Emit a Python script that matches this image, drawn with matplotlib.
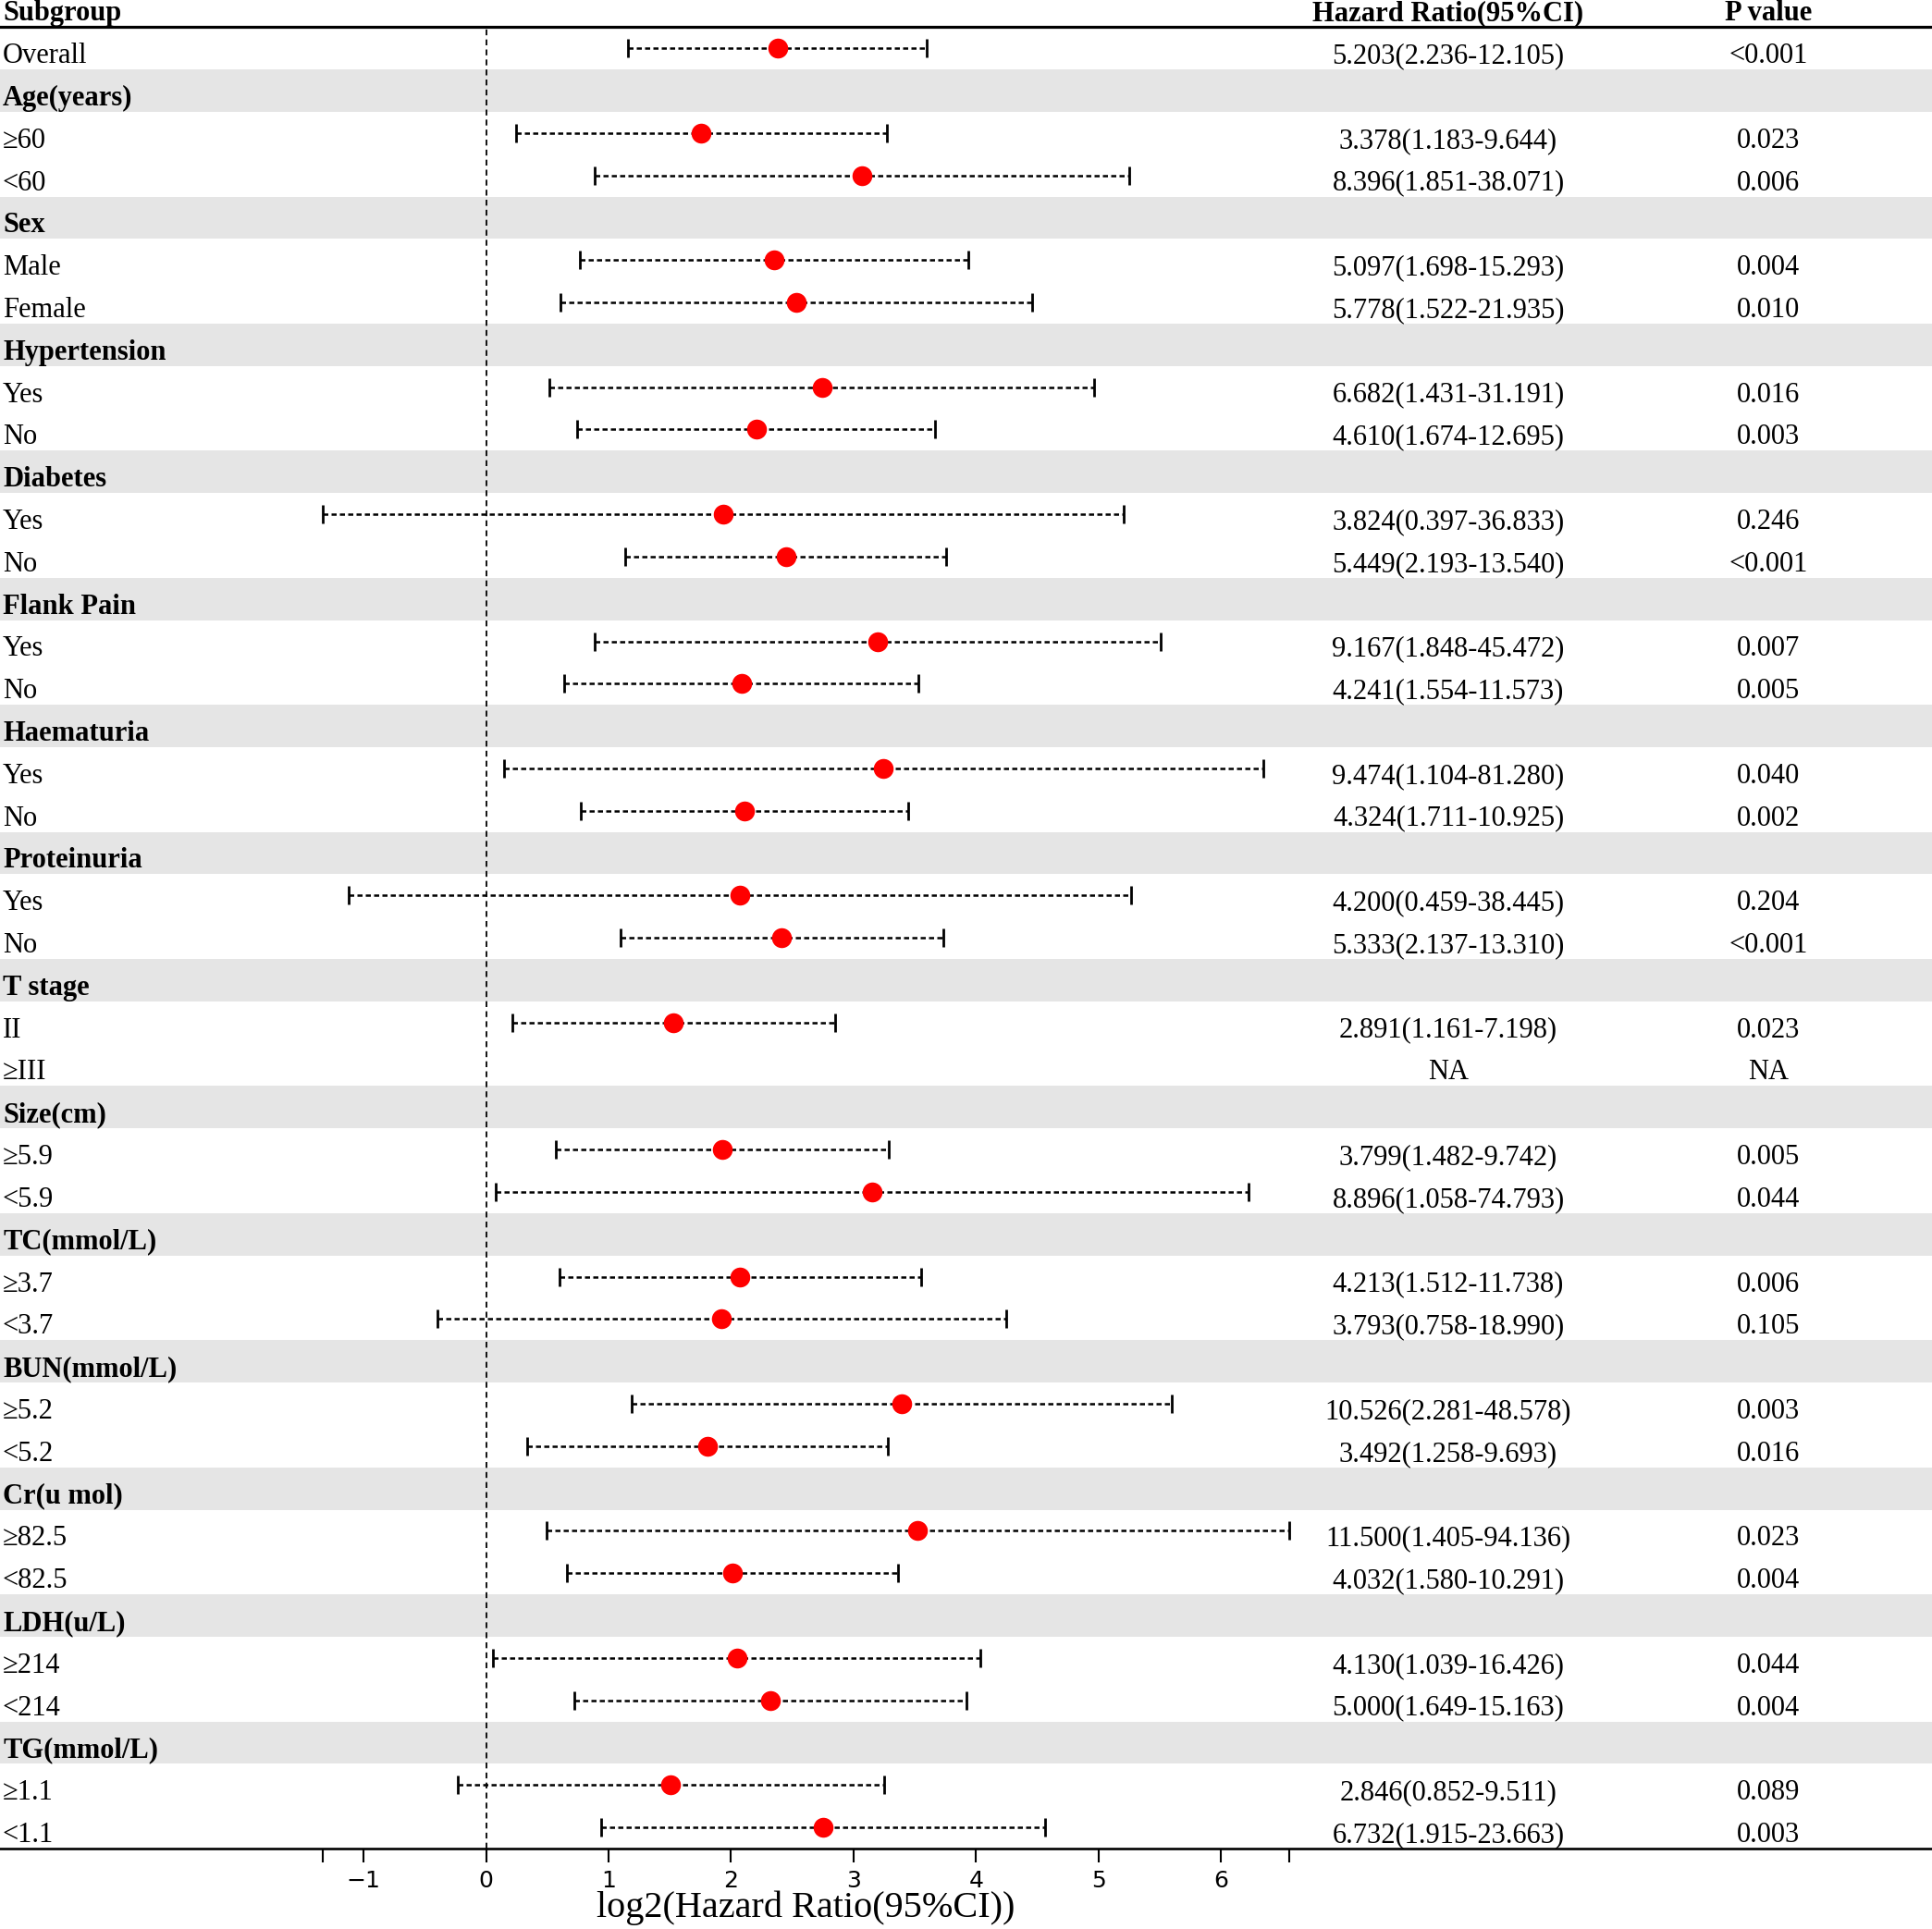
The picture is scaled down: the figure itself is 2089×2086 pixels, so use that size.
import numpy as np
import matplotlib
matplotlib.use("Agg")
import matplotlib.pyplot as plt
from matplotlib.transforms import blended_transform_factory

# ---------------- data ----------------
labels = ["Overall", "Age(years)", "≥60", "<60", "Sex", "Male", "Female",
          "Hypertension", "Yes", "No", "Diabetes", "Yes", "No",
          "Flank Pain", "Yes", "No", "Haematuria", "Yes", "No",
          "Proteinuria", "Yes", "No", "T stage", "II", "≥III",
          "Size(cm)", "≥5.9", "<5.9", "TC(mmol/L)", "≥3.7", "<3.7",
          "BUN(mmol/L)", "≥5.2", "<5.2", "Cr(u mol)", "≥82.5", "<82.5",
          "LDH(u/L)", "≥214", "<214", "TG(mmol/L)", "≥1.1", "<1.1"]
group_headers = ["Age(years)", "Sex", "Hypertension", "Diabetes", "Flank Pain",
                 "Haematuria", "Proteinuria", "T stage", "Size(cm)", "TC(mmol/L)",
                 "BUN(mmol/L)", "Cr(u mol)", "LDH(u/L)", "TG(mmol/L)"]
N = None
hr = [5.203, N, 3.378, 8.396, N, 5.097, 5.778, N, 6.682, 4.610, N, 3.824, 5.449,
      N, 9.167, 4.241, N, 9.474, 4.324, N, 4.200, 5.333, N, 2.891, N,
      N, 3.799, 8.896, N, 4.213, 3.793, N, 10.526, 3.492, N, 11.500, 4.032,
      N, 4.130, 5.000, N, 2.846, 6.732]
lower = [2.236, N, 1.183, 1.851, N, 1.698, 1.522, N, 1.431, 1.674, N, 0.397, 2.193,
         N, 1.848, 1.554, N, 1.104, 1.711, N, 0.459, 2.137, N, 1.161, N,
         N, 1.482, 1.058, N, 1.512, 0.758, N, 2.281, 1.258, N, 1.405, 1.580,
         N, 1.039, 1.649, N, 0.852, 1.915]
upper = [12.105, N, 9.644, 38.071, N, 15.293, 21.935, N, 31.191, 12.695, N, 36.833, 13.540,
         N, 45.472, 11.573, N, 81.280, 10.925, N, 38.445, 13.310, N, 7.198, N,
         N, 9.742, 74.793, N, 11.738, 18.990, N, 48.578, 9.693, N, 94.136, 10.291,
         N, 16.426, 15.163, N, 9.511, 23.663]
pvalue = ["<0.001", "", "0.023", "0.006", "", "0.004", "0.010", "", "0.016", "0.003",
          "", "0.246", "<0.001", "", "0.007", "0.005", "", "0.040", "0.002", "",
          "0.204", "<0.001", "", "0.023", "NA", "", "0.005", "0.044", "", "0.006",
          "0.105", "", "0.003", "0.016", "", "0.023", "0.004", "", "0.044", "0.004",
          "", "0.089", "0.003"]
na_rows = ["≥III"]
col_headers = ["Subgroup", "Hazard Ratio(95%CI)", "P value"]
xlabel = "log2(Hazard Ratio(95%CI))"
xticks_int = [-1, 0, 1, 2, 3, 4, 5, 6]

# ---------------- figure ----------------
W, H = 2089, 2086
DPI = 100
fig = plt.figure(figsize=(W / DPI, H / DPI), dpi=DPI)
serif = ["Liberation Serif", "DejaVu Serif"]

top_px, bot_px = 29.3, 1999.0
ax = fig.add_axes([0, 1 - bot_px / H, 1, (bot_px - top_px) / H])
n = len(labels)
rows = np.arange(n)
ax.set_ylim(n - 0.5, -0.5)

x0_px, unit_px = 525.7, 132.4
ax.set_xlim(-x0_px / unit_px, (W - x0_px) / unit_px)

# header bands
for i, lab in enumerate(labels):
    if lab in group_headers and i > 0:
        ax.axhspan(i - 0.5, i + 0.5, color="#E5E5E5", lw=0, zorder=0)

# reference line
ax.axvline(0, color="black", lw=1.3, ls=(0, (3.5, 2.5)), zorder=1)

# CI and points
hr_a = np.array([np.nan if v is None else v for v in hr], float)
lo_a = np.array([np.nan if v is None else v for v in lower], float)
up_a = np.array([np.nan if v is None else v for v in upper], float)
est = np.log2(hr_a)
lo_l = np.log2(lo_a)
up_l = np.log2(up_a)
ok = ~np.isnan(est)
ax.hlines(rows[ok], lo_l[ok], up_l[ok], colors="black", lw=1.8,
          linestyles=(0, (2.2, 1.4)), zorder=2)
ax.plot(lo_l[ok], rows[ok], ls="none", marker="|", ms=14.4, mew=2.0, color="black", zorder=3)
ax.plot(up_l[ok], rows[ok], ls="none", marker="|", ms=14.4, mew=2.0, color="black", zorder=3)
ax.plot(est[ok], rows[ok], ls="none", marker="o", ms=15.5, mec="none", color="#FF0000", zorder=4)

# axis
xmin_d = np.nanmin(lo_l)
xmax_d = np.nanmax(up_l)
for s in ["left", "right"]:
    ax.spines[s].set_visible(False)
ax.spines["top"].set_linewidth(2.3)
ax.spines["bottom"].set_linewidth(1.9)
ticks = [xmin_d] + xticks_int + [xmax_d]
ax.set_xticks(ticks)
ax.set_xticklabels([""] + ["−1" if t < 0 else str(t) for t in xticks_int] + [""])
ax.tick_params(axis="x", length=10.8, width=1.5, pad=6, labelsize=18)
for t in ax.get_xticklabels():
    t.set_fontfamily(["DejaVu Sans"])
ax.set_yticks([])

# text columns
tr = blended_transform_factory(fig.transFigure, ax.transData)
x_lab = 3 / W
x_hr = 1566 / W
x_p = 1912 / W
base_off = 0.5 - 7 / 45.8
fs = 22
for i, lab in enumerate(labels):
    y = i + base_off
    bold = lab in group_headers
    ax.text(x_lab, y, lab, transform=tr, ha="left", va="baseline", fontsize=fs,
            fontweight="bold" if bold else "normal", family=serif)
    if ok[i]:
        s = f"{hr_a[i]:.3f}({lo_a[i]:.3f}-{up_a[i]:.3f})"
    elif lab in na_rows:
        s = "NA"
    else:
        s = ""
    if s:
        ax.text(x_hr, y, s, transform=tr, ha="center", va="baseline", fontsize=fs, family=serif)
    if pvalue[i]:
        ax.text(x_p, y, pvalue[i], transform=tr, ha="center", va="baseline", fontsize=fs, family=serif)

yh = -0.5 - 7.3 / 45.8
for xx, txt, ha in [(x_lab, col_headers[0], "left"), (x_hr, col_headers[1], "center"),
                    (x_p, col_headers[2], "center")]:
    ax.text(xx, yh, txt, transform=tr, ha=ha, va="baseline", fontsize=fs,
            fontweight="bold", family=serif, clip_on=False)

# x label centered on axis range
trx = blended_transform_factory(ax.transData, fig.transFigure)
ax.text((xmin_d + xmax_d) / 2, 1 - 2063 / H, xlabel, transform=trx, ha="center",
        va="center", fontsize=29, family=serif)

fig.savefig("out.png", dpi=DPI)
